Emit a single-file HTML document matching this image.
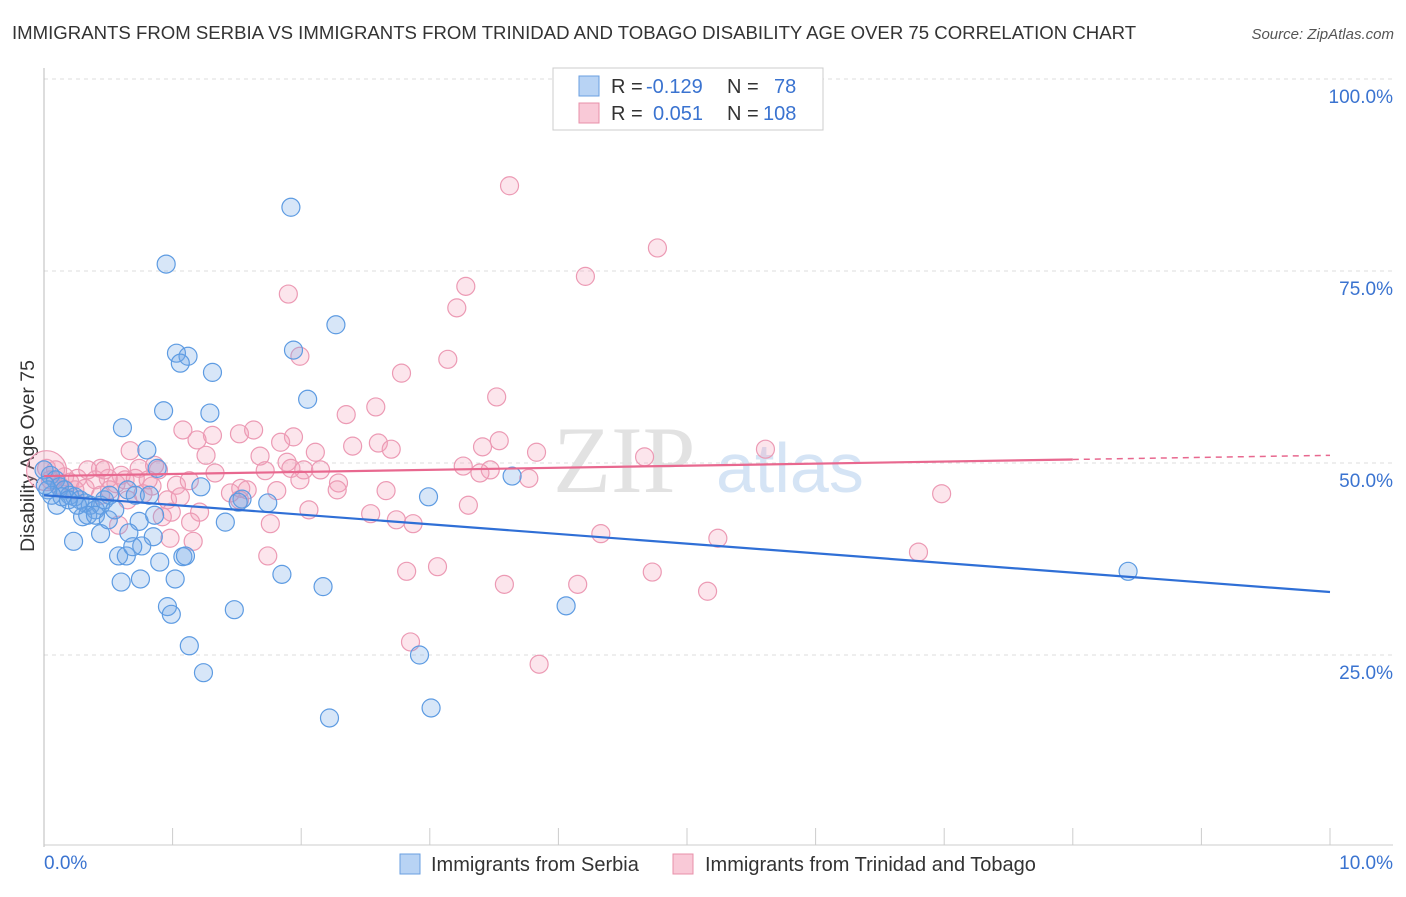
<!DOCTYPE html>
<html><head><meta charset="utf-8"><style>
body{margin:0;background:#fff;font-family:"Liberation Sans",sans-serif;}
</style></head><body>
<svg id="chart" width="1406" height="892" xmlns="http://www.w3.org/2000/svg">
<text x="12" y="39" font-size="18.6" fill="#333">IMMIGRANTS FROM SERBIA VS IMMIGRANTS FROM TRINIDAD AND TOBAGO DISABILITY AGE OVER 75 CORRELATION CHART</text>
<text x="1394" y="39" font-size="15" fill="#555" font-style="italic" text-anchor="end">Source: ZipAtlas.com</text>
<text transform="translate(34,456) rotate(-90)" font-size="19.5" fill="#333" text-anchor="middle">Disability Age Over 75</text>
<text x="553" y="492" font-size="95" fill="#e2e2e2" font-family="Liberation Serif,serif">ZIP</text>
<text x="716" y="492" font-size="70" fill="#d5e4f5">atlas</text>
<g id="grid"></g><g id="pts"></g><g id="lines"></g>
<g>
<rect x="553" y="68" width="270" height="62" fill="#fff" stroke="#ccc"/>
<rect x="579" y="76" width="20" height="20" fill="#b8d3f4" stroke="#6a9fe0"/>
<rect x="579" y="103" width="20" height="20" fill="#f9c9d7" stroke="#e890aa"/>
<text y="93" font-size="20" fill="#333"><tspan x="611">R =</tspan><tspan x="646" fill="#3a73d0">-0.129</tspan><tspan x="727">N =</tspan><tspan x="774" fill="#3a73d0">78</tspan></text>
<text y="120" font-size="20" fill="#333"><tspan x="611">R =</tspan><tspan x="653" fill="#3a73d0">0.051</tspan><tspan x="727">N =</tspan><tspan x="763" fill="#3a73d0">108</tspan></text>
</g>
<g>
<rect x="400" y="854" width="20" height="20" fill="#b8d3f4" stroke="#6a9fe0"/>
<text x="431" y="871" font-size="20" fill="#333">Immigrants from Serbia</text>
<rect x="673" y="854" width="20" height="20" fill="#f9c9d7" stroke="#e890aa"/>
<text x="705" y="871" font-size="20" fill="#333">Immigrants from Trinidad and Tobago</text>
</g>
</svg>
<script>
const xTicks=[0,10];
const yTicks=[25,50,75,100];
const blueX=[0.95,1.92,2.27,1.03,1.12,1.06,1.94,1.31,2.05,0.93,1.29,0.61,0.80,0.88,1.22,2.99,3.64,1.54,1.51,1.74,1.41,0.74,0.85,0.66,0.44,0.23,0.58,0.64,0.76,0.69,1.08,1.10,0.90,1.02,0.60,0.75,1.85,2.17,0.96,0.99,1.48,4.06,1.13,2.92,1.24,2.22,3.01,8.43,0,.05,.09,.12,.16,.20,.24,.28,.32,.36,.40,.44,.47,.51,.10,.14,.19,.30,.34,.40,.50,.55,.65,.71,.82,.86,.03,.06,.01,.26];
const blueY=[75.9,83.3,68.0,64.3,63.9,63.0,64.7,61.8,58.3,56.8,56.5,54.6,51.7,49.3,46.9,45.6,48.3,45.3,44.9,44.8,42.3,42.4,40.4,40.9,40.8,39.8,37.9,37.9,39.2,39.1,37.8,37.9,37.1,34.9,34.5,34.9,35.5,33.9,31.3,30.3,30.9,31.4,26.2,25.0,22.7,16.8,18.1,35.9,49.1,48.4,47.8,46.9,46.5,45.8,45.6,45.2,44.8,44.5,43.9,44.5,45.2,45.8,44.5,45.6,45.2,43.0,43.2,43.2,42.6,43.9,46.5,45.8,45.8,43.2,46.5,45.8,47.1,44.5];
const pinkX=[3.62,4.77,4.21,3.28,1.90,3.21,1.99,3.14,2.78,2.35,2.58,3.52,1.08,1.31,1.52,1.63,1.94,1.84,2.40,2.60,2.70,3.54,3.83,3.41,5.61,4.67,0.67,1.19,1.26,1.68,1.89,2.11,1.72,1.92,2.02,3.26,3.47,3.39,3.77,1.33,0.89,0.74,0.44,0.34,0.60,0.26,0.16,0.09,0.02,2.29,2.28,2.66,1.53,1.45,1.58,1.81,1.03,1.13,0.84,0.77,0.56,0.50,0.96,1.21,1.14,0.65,0.99,0.92,0.58,2.06,2.54,2.74,2.87,3.30,1.76,4.33,5.24,6.98,6.80,0.98,1.16,1.74,2.82,3.06,3.58,4.15,4.73,5.16,2.85,3.85,.12,.20,.32,.40,.24,.44,.51,.63,.71,.81,.86,.47,.05,1.06,1.52,1.99,2.15,0.02];
const pinkY=[86.1,78.0,74.3,73.0,72.0,70.2,63.9,63.5,61.7,56.3,57.3,58.6,54.3,53.6,53.8,54.3,53.4,52.7,52.2,52.6,51.8,52.9,51.4,52.1,51.8,50.8,51.6,53.0,51.0,50.9,50.1,51.4,49.0,49.3,49.1,49.6,49.1,48.7,48.0,48.7,49.1,49.3,49.3,49.1,48.4,48.0,48.2,49.1,49.3,47.4,46.5,46.4,46.7,46.1,46.5,46.4,47.1,47.7,47.0,46.0,47.3,48.0,45.2,43.6,42.3,45.2,43.6,43.0,41.9,43.9,43.4,42.6,42.1,44.5,42.1,40.8,40.2,46.0,38.4,40.2,39.8,37.9,35.9,36.5,34.2,34.2,35.8,33.3,26.7,23.8,47.1,47.5,46.7,47.8,46.5,45.8,46.5,47.8,48.0,47.8,49.7,49.1,47.8,45.6,45.2,47.8,49.1,49.0];
const blueTrend=[45.8,33.2];
const pinkTrend=[48.3,51.0];
const pinkSolidEnd=8.0;
const X=v=>44+v*128.6, Y=v=>847-v*7.68;
const NS="http://www.w3.org/2000/svg";
function mk(t,a,p){const e=document.createElementNS(NS,t);for(const k in a)e.setAttribute(k,a[k]);p.appendChild(e);return e;}
const grid=document.getElementById('grid');
yTicks.forEach(t=>{
 const l=mk('line',{x1:44,x2:1393,y1:Y(t),y2:Y(t),stroke:'#ddd','stroke-dasharray':'4,4'},grid);
 
 
 const tx=mk('text',{x:1393,y:Y(t)+24,'font-size':19,fill:'#3a73d0','text-anchor':'end'},grid);tx.textContent=t.toFixed(1)+'%';
 
 
});
mk('line',{x1:44,x2:44,y1:68,y2:847,stroke:'#bbb'},grid);
mk('line',{x1:44,x2:1393,y1:845,y2:845,stroke:'#ccc'},grid);
for(let i=1;i<=10;i++){const l=mk('line',{x1:X(i),x2:X(i),y1:828,y2:845,stroke:'#ccc'},grid);
 
 }
xTicks.forEach(t=>{const tx=mk('text',{x:t==0?44:1393,y:869,'font-size':19,fill:'#3a73d0','text-anchor':t==0?'start':'end'},grid);tx.textContent=t.toFixed(1)+'%';
 
 });
const pts=document.getElementById('pts');
pinkX.forEach((x,i)=>{const c=mk('circle',{cx:X(x),cy:Y(pinkY[i]),r:i==pinkX.length-1?20:9,fill:'rgba(244,160,188,0.28)',stroke:'#ec9ab4','stroke-width':1.2},pts);
 
 });
blueX.forEach((x,i)=>{const c=mk('circle',{cx:X(x),cy:Y(blueY[i]),r:9,fill:'rgba(110,165,230,0.28)',stroke:'#5d9be2','stroke-width':1.2},pts);
 
 });
const L=document.getElementById('lines');
const bl=mk('line',{x1:X(0),y1:Y(blueTrend[0]),x2:X(10),y2:Y(blueTrend[1]),stroke:'#2f6fd6','stroke-width':2.2},L);


const pe=pinkTrend[0]+(pinkTrend[1]-pinkTrend[0])*pinkSolidEnd/10;
const pl=mk('line',{x1:X(0),y1:Y(pinkTrend[0]),x2:X(pinkSolidEnd),y2:Y(pe),stroke:'#e8688f','stroke-width':2.2},L);


const pd=mk('line',{x1:X(pinkSolidEnd),y1:Y(pe),x2:X(10),y2:Y(pinkTrend[1]),stroke:'#e8688f','stroke-width':1.5,'stroke-dasharray':'6,5'},L);


</script>
</body></html>
